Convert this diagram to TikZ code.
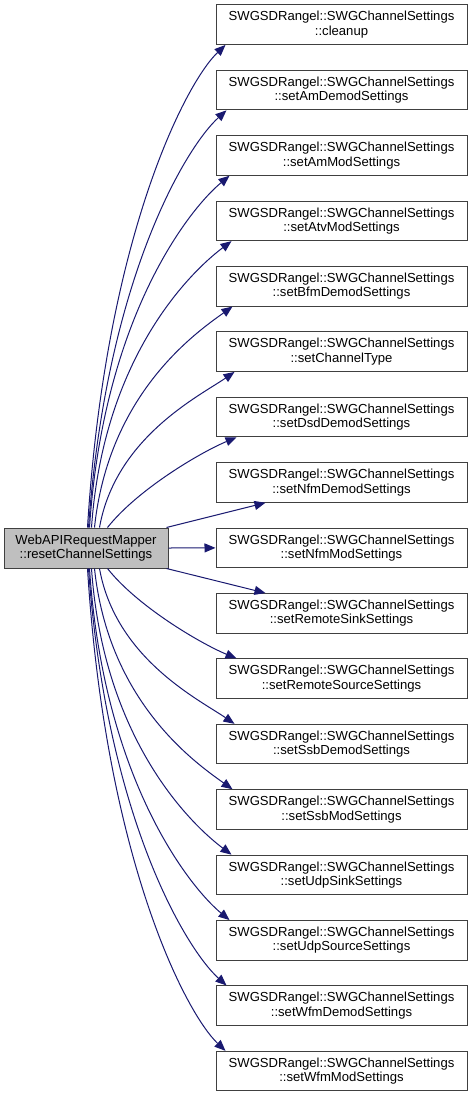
\documentclass[tikz,border=0pt]{standalone}
\usepackage{fontspec}
\setmainfont{Liberation Sans}
\usetikzlibrary{arrows.meta,calc}
\definecolor{edgeblue}{HTML}{191970}
\definecolor{boxline}{HTML}{404040}
\definecolor{mainfill}{HTML}{BFBFBF}
\begin{document}
\begin{tikzpicture}[x=1pt,y=-1pt,
  box/.style={draw=boxline, line width=1pt, fill=white, minimum width=251pt,
    minimum height=39.5pt, inner sep=0pt, align=center,
    font=\fontsize{13.1}{14.5}\selectfont},
  mainbox/.style={box, fill=mainfill, minimum width=164pt, minimum height=40pt},
  edge/.style={draw=edgeblue, line width=1pt, -{Triangle[length=11pt,width=9pt]}}]
\useasboundingbox (0,0) rectangle (472,1097);
\node[mainbox] (L) at (86,548) {WebAPIRequestMapper\\::resetChannelSettings};
\foreach \n [count=\i from 0] in {cleanup,setAmDemodSettings,setAmModSettings,setAtvModSettings,setBfmDemodSettings,setChannelType,setDsdDemodSettings,setNfmDemodSettings,setNfmModSettings,setRemoteSinkSettings,setRemoteSourceSettings,setSsbDemodSettings,setSsbModSettings,setUdpSinkSettings,setUdpSourceSettings,setWfmDemodSettings,setWfmModSettings}
  \node[box] (T\i) at (341.5,{24.7+65.4*\i}) {SWGSDRangel::SWGChannelSettings\\::\n};
\foreach \k/\xs/\ex/\ax/\ay/\bx/\by [evaluate=\k as \j using int(16-\k)] in
  {0/84/10/18/-290/-40/38, 1/85/11/18/-250/-40/36, 2/86/14/14/-211/-40/33,
   3/88/16/12/-172/-40/30, 4/91/17/14/-133/-38/27, 5/96/19/16/-90/-35/24,
   6/104/21/30/-38/-36/15}
{
  \draw[edge] ($(L.north west)+(\xs,0)$) .. controls +(\ax,\ay) and +(\bx,\by) .. ($(T\k.south west)+(\ex,0)$);
  \draw[edge] ($(L.south west)+(\xs,0)$) .. controls +(\ax,{-1*(\ay)}) and +(\bx,{-1*(\by)}) .. ($(T\j.north west)+(\ex,0)$);
}
\draw[edge] ($(L.north east)+(-2,0)$) -- ($(T7.south west)+(50,0)$);
\draw[edge] (L.east) -- (T8.west);
\draw[edge] ($(L.south east)+(-2,0)$) -- ($(T9.north west)+(50,0)$);
\end{tikzpicture}
\end{document}
